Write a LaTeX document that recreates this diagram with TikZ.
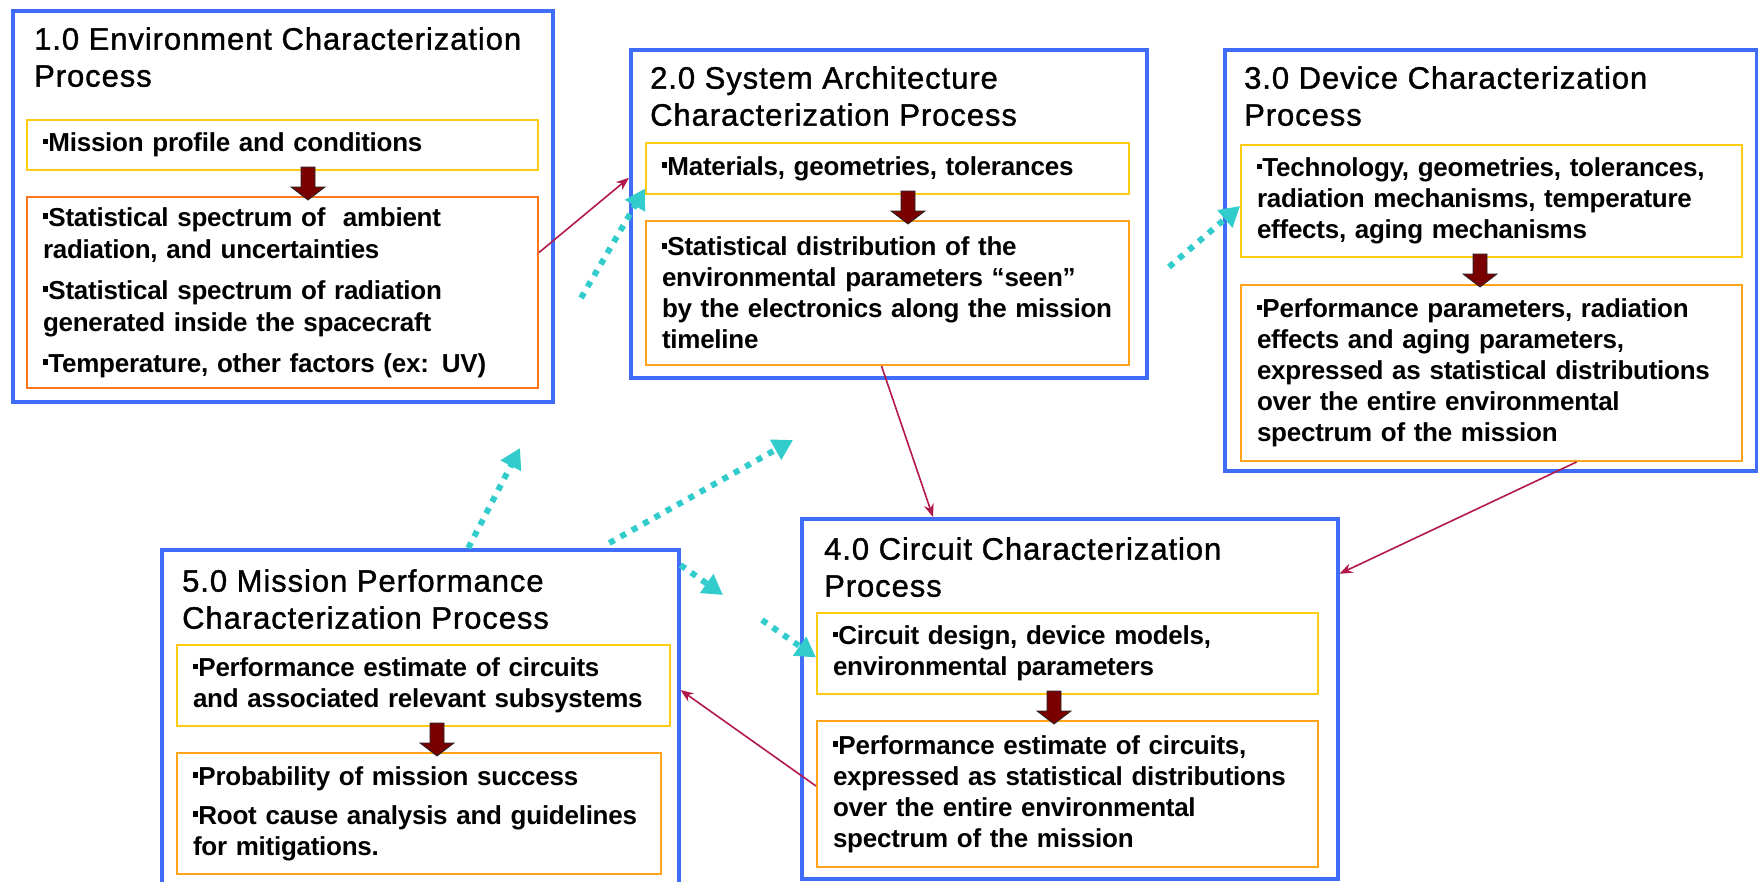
\documentclass[tikz,border=0pt]{standalone}
\usepackage{fontspec}
\setmainfont{Liberation Sans}
\newfontfamily\titlefont[LetterSpace=3,FakeBold=1.2]{Liberation Sans}
\newfontfamily\bodyfont[LetterSpace=-1]{Liberation Sans}
\usetikzlibrary{arrows.meta,calc}
\definecolor{bluebox}{HTML}{3F6DF7}
\definecolor{yelbox}{HTML}{FFCC11}
\definecolor{orabox}{HTML}{FFA31A}
\definecolor{redorabox}{HTML}{FF7420}
\definecolor{linkred}{HTML}{B3184A}
\definecolor{cyanlink}{HTML}{33CCCC}
\definecolor{arrred}{HTML}{7A0000}
\newcommand\sqb{\raisebox{0.28em}{\rule{0.21em}{0.21em}}}
\tikzset{
  outerbox/.style={draw=bluebox, line width=3.5pt, fill=white, anchor=north west, inner sep=0pt},
  titletext/.style={font=\titlefont\fontsize{31}{37}\selectfont, align=left, inner sep=0pt, anchor=north west},
  inbox/.style={line width=2pt, fill=white, anchor=north west, align=left, inner xsep=16pt, inner ysep=0pt,
    font=\bodyfont\bfseries\fontsize{26}{31}\selectfont},
  ybox/.style={inbox, draw=yelbox},
  obox/.style={inbox, draw=orabox},
  roblink/.style={draw=linkred, line width=1.6pt, -{Stealth[length=13pt,width=10pt]}},
  cyanarr/.style={draw=cyanlink, line width=6pt, dash pattern=on 6pt off 7pt, -{Triangle[length=20pt,width=22pt]}},
  downarr/.pic={\filldraw[fill=arrred, draw=black!85, line width=0.8pt]
     (-7,0) -- (7,0) -- (7,20) -- (17,20) -- (0,33) -- (-17,20) -- (-7,20) -- cycle;}
}
\begin{document}
\begin{tikzpicture}[x=1pt,y=-1pt]
\useasboundingbox (0,0) rectangle (1758,881);

% ---------- Box 1 ----------
\node[outerbox, minimum width=540pt, minimum height=391pt] (b1) at (11,9) {};
\node[titletext] (t1) at (34,27) {1.0 Environment Characterization\\Process};
\node[ybox, text width=479pt, minimum height=50pt] (y1) at (26,119) {\sqb Mission profile and conditions};
\node[obox, draw=redorabox, text width=479pt, minimum height=191pt,
  font=\bodyfont\bfseries\fontsize{26}{32}\selectfont] (o1) at (26,196)
  {\sqb Statistical spectrum of\ \ ambient\\ radiation, and uncertainties\\[9pt]
   \sqb Statistical spectrum of radiation\\ generated inside the spacecraft\\[9pt]
   \sqb Temperature, other factors (ex: UV)};
\pic at ($(y1.south west)+(282,-4)$) {downarr};

% ---------- Box 2 ----------
\node[outerbox, minimum width=516pt, minimum height=328pt] (b2) at (629,48) {};
\node[titletext] (t2) at (650,66) {2.0 System Architecture\\Characterization Process};
\node[ybox, text width=451pt, minimum height=51pt] (y2) at (645,142) {\sqb Materials, geometries, tolerances};
\node[obox, text width=451pt, minimum height=144pt] (o2) at (645,220)
  {\sqb Statistical distribution of the\\ environmental parameters “seen”\\ by the electronics along the mission\\ timeline};
\pic at ($(y2.south west)+(263,-4)$) {downarr};

% ---------- Box 3 ----------
\node[outerbox, minimum width=532pt, minimum height=421pt] (b3) at (1223,48) {};
\node[titletext] (t3) at (1244,66) {3.0 Device Characterization\\Process};
\node[ybox, text width=469pt, minimum height=112pt] (y3) at (1240,144)
  {\sqb Technology, geometries, tolerances,\\ radiation mechanisms, temperature\\ effects, aging mechanisms};
\node[obox, text width=469pt, minimum height=176pt] (o3) at (1240,284)
  {\sqb Performance parameters, radiation\\ effects and aging parameters,\\ expressed as statistical distributions\\ over the entire environmental\\ spectrum of the mission};
\pic at ($(y3.south west)+(240,-4)$) {downarr};

% ---------- Box 4 ----------
\node[outerbox, minimum width=536pt, minimum height=360pt] (b4) at (800,517) {};
\node[titletext] (t4) at (824,537) {4.0 Circuit Characterization\\Process};
\node[ybox, text width=469pt, minimum height=81pt] (y4) at (816,612)
  {\sqb Circuit design, device models,\\ environmental parameters};
\node[obox, text width=469pt, minimum height=146pt] (o4) at (816,720)
  {\sqb Performance estimate of circuits,\\ expressed as statistical distributions\\ over the entire environmental\\ spectrum of the mission};
\pic at ($(y4.south west)+(238,-4)$) {downarr};

% ---------- Box 5 ----------
\node[outerbox, minimum width=517pt, minimum height=342pt] (b5) at (160,548) {};
\node[titletext] (t5) at (182,569) {5.0 Mission Performance\\Characterization Process};
\node[ybox, text width=461pt, minimum height=81pt] (y5) at (176,644)
  {\sqb Performance estimate of circuits\\ and associated relevant subsystems};
\node[obox, text width=452pt, minimum height=121pt] (o5) at (176,752)
  {\sqb Probability of mission success\\[8pt] \sqb Root cause analysis and guidelines\\ for mitigations.};
\pic at ($(y5.south west)+(261,-4)$) {downarr};

% ---------- red connectors ----------
\draw[roblink] ([yshift=40pt]o1.east) -- ([yshift=36pt]b2.west);
\draw[roblink] ([xshift=-6pt]o2.south) -- ([xshift=133pt]b4.north west);
\draw[roblink] ([xshift=85pt]o3.south) -- ([yshift=125pt]b4.east);
\draw[roblink] ([yshift=8pt]o4.west) -- ([yshift=-142pt]b5.north east);

% ---------- cyan dotted connectors ----------
\coordinate (fa) at (581,298);
\coordinate (fb) at (1169,267);
\coordinate (fc) at (520,448);
\coordinate (fd) at (793,440);
\coordinate (fe1) at (723,595);
\coordinate (fe2) at (762,620);
\draw[cyanarr] (fa) -- ([yshift=-20pt]y2.west);
\draw[cyanarr] (fb) -- ([yshift=-5pt]y3.west);
\draw[cyanarr] ([xshift=48pt]b5.north) -- (fc);
\draw[cyanarr] ([xshift=189pt,yshift=5pt]b5.north) -- (fd);
\draw[cyanarr] ([yshift=-17pt]b5.north east) -- (fe1);
\draw[cyanarr] (fe2) -- ([yshift=-4pt]y4.west);
\end{tikzpicture}
\end{document}
